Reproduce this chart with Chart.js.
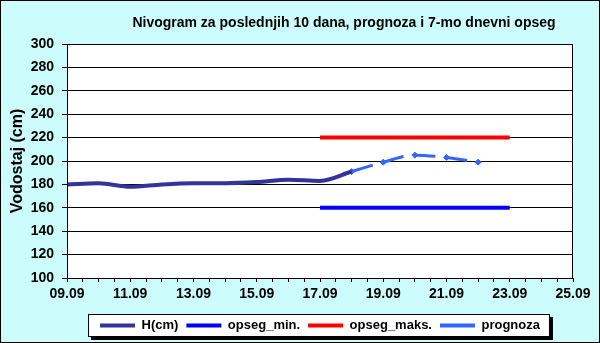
<!DOCTYPE html>
<html>
<head>
<meta charset="utf-8">
<script src="https://cdn.jsdelivr.net/npm/chart.js@4"></script>
<style>
  html, body { margin: 0; padding: 0; background: #fff; }
  canvas { display: block; }
</style>
</head>
<body>
<canvas id="nivogram" width="600" height="343"></canvas>
<script>
// measured levels (cm)
const hDays = ['09.09', '10.09', '11.09', '12.09', '13.09', '14.09', '15.09', '16.09', '17.09', '18.09'];
const hValues = [180, 181, 178, 180, 181, 181, 182, 184, 183, 191];

// 7-day range
const rangeDays = ['17.09', '23.09'];
const rangeMin = [160, 160];
const rangeMax = [220, 220];

// forecast
const forecastDays = ['18.09', '19.09', '20.09', '21.09', '22.09'];
const forecastValues = [191, 199, 205, 203, 199];

const tickLabels = ['09.09', '11.09', '13.09', '15.09', '17.09', '19.09', '21.09', '23.09', '25.09'];
const firstDay = 9;

const FONT = 'Arial, "Liberation Sans", sans-serif';
const toX = d => Number(d.slice(0, 2)) - firstDay;
const points = (days, vals) => days.map((d, i) => ({x: toX(d), y: vals[i]}));

const frame = {
    id: 'frame',
    beforeDraw(chart) {
        const {ctx, chartArea: a} = chart;
        ctx.save();
        ctx.fillStyle = '#ccfcfc';
        ctx.fillRect(0, 0, chart.width, chart.height);
        ctx.fillStyle = '#ffffff';
        ctx.fillRect(a.left, a.top, a.right - a.left, a.bottom - a.top);
        ctx.restore();
    },
    afterDraw(chart) {
        const {ctx, chartArea: a} = chart;
        ctx.save();
        ctx.strokeStyle = '#000';
        ctx.lineWidth = 1;
        ctx.strokeRect(a.left + 0.5, a.top + 0.5, a.right - a.left - 1, a.bottom - a.top);
        ctx.strokeRect(0.5, 0.5, chart.width - 1, chart.height - 1);

        // title
        ctx.fillStyle = '#000';
        ctx.font = 'bold 14px ' + FONT;
        ctx.textAlign = 'center';
        ctx.textBaseline = 'middle';
        ctx.fillText('Nivogram za poslednjih 10 dana, prognoza i 7-mo dnevni opseg', 344, 23);
        ctx.restore();
    }
};

// white legend frame with a drop shadow, legend redrawn on top
const legendBox = {
    id: 'legendBox',
    afterDraw(chart) {
        const boxes = chart.legend.legendHitBoxes;
        if (!boxes || !boxes.length) return;
        const left = Math.min(...boxes.map(b => b.left)) - 12;
        const right = Math.max(...boxes.map(b => b.left + b.width)) + 10;
        const top = boxes[0].top - 5;
        const bottom = boxes[0].top + boxes[0].height + 5;
        const ctx = chart.ctx;
        ctx.save();
        ctx.fillStyle = '#000';
        ctx.fillRect(left + 3, top + 3, right - left, bottom - top);
        ctx.fillStyle = '#fff';
        ctx.fillRect(left, top, right - left, bottom - top);
        ctx.strokeStyle = '#000';
        ctx.lineWidth = 1;
        ctx.strokeRect(left + 0.5, top + 0.5, right - left - 1, bottom - top - 1);
        ctx.restore();
        chart.legend.draw();
    }
};

new Chart(document.getElementById('nivogram'), {
    type: 'line',
    data: {
        datasets: [
            {
                label: 'H(cm)',
                data: points(hDays, hValues),
                borderColor: '#333399',
                backgroundColor: '#333399',
                borderWidth: 4,
                pointRadius: 0,
                cubicInterpolationMode: 'monotone',
            },
            {
                label: 'opseg_min.',
                data: points(rangeDays, rangeMin),
                borderColor: '#0000ff',
                backgroundColor: '#0000ff',
                borderWidth: 4,
                pointRadius: 0,
            },
            {
                label: 'opseg_maks.',
                data: points(rangeDays, rangeMax),
                borderColor: '#ff0000',
                backgroundColor: '#ff0000',
                borderWidth: 4,
                pointRadius: 0,
            },
            {
                label: 'prognoza',
                data: points(forecastDays, forecastValues),
                borderColor: '#3366ff',
                backgroundColor: '#3366ff',
                borderWidth: 3,
                borderDash: [22, 10],
                pointStyle: 'rectRot',
                pointRadius: 3,
                pointBorderWidth: 1,
                cubicInterpolationMode: 'monotone',
            },
        ]
    },
    options: {
        responsive: false,
        animation: false,
        layout: {padding: {left: 8, right: 27, top: 44, bottom: 1}},
        plugins: {
            title: {display: false},
            tooltip: {enabled: false},
            legend: {
                position: 'bottom',
                fullSize: false,
                labels: {
                    boxWidth: 35,
                    boxHeight: 4,
                    padding: 8,
                    color: '#000',
                    font: {family: FONT, size: 13, weight: 'bold'},
                    generateLabels: chart => chart.data.datasets.map((ds, i) => ({
                        text: ds.label,
                        fillStyle: ds.borderColor,
                        strokeStyle: ds.borderColor,
                        lineWidth: 0,
                        datasetIndex: i,
                        hidden: false,
                    })),
                },
            },
        },
        scales: {
            x: {
                type: 'linear',
                min: 0,
                max: 16,
                afterFit: s => { s.height = 33; },
                ticks: {
                    stepSize: 0.5,
                    autoSkip: false,
                    maxRotation: 0,
                    padding: 4,
                    color: '#000',
                    font: {family: FONT, size: 14, weight: 'bold'},
                    callback: v => (Number.isInteger(v) && v % 2 === 0) ? tickLabels[v / 2] : '',
                },
                grid: {drawOnChartArea: false, tickLength: 4, color: '#000'},
                border: {color: '#000'},
            },
            y: {
                min: 100,
                max: 300,
                afterFit: s => { s.width = 59; },
                ticks: {
                    stepSize: 20,
                    padding: 8,
                    color: '#000',
                    font: {family: FONT, size: 14, weight: 'bold'},
                },
                grid: {color: '#000', tickLength: 5},
                border: {color: '#000'},
                title: {
                    display: true,
                    text: 'Vodostaj (cm)',
                    color: '#000',
                    padding: {top: 0, bottom: 0},
                    font: {family: FONT, size: 16, weight: 'bold'},
                },
            },
        },
    },
    plugins: [frame, legendBox],
});
</script>
</body>
</html>
